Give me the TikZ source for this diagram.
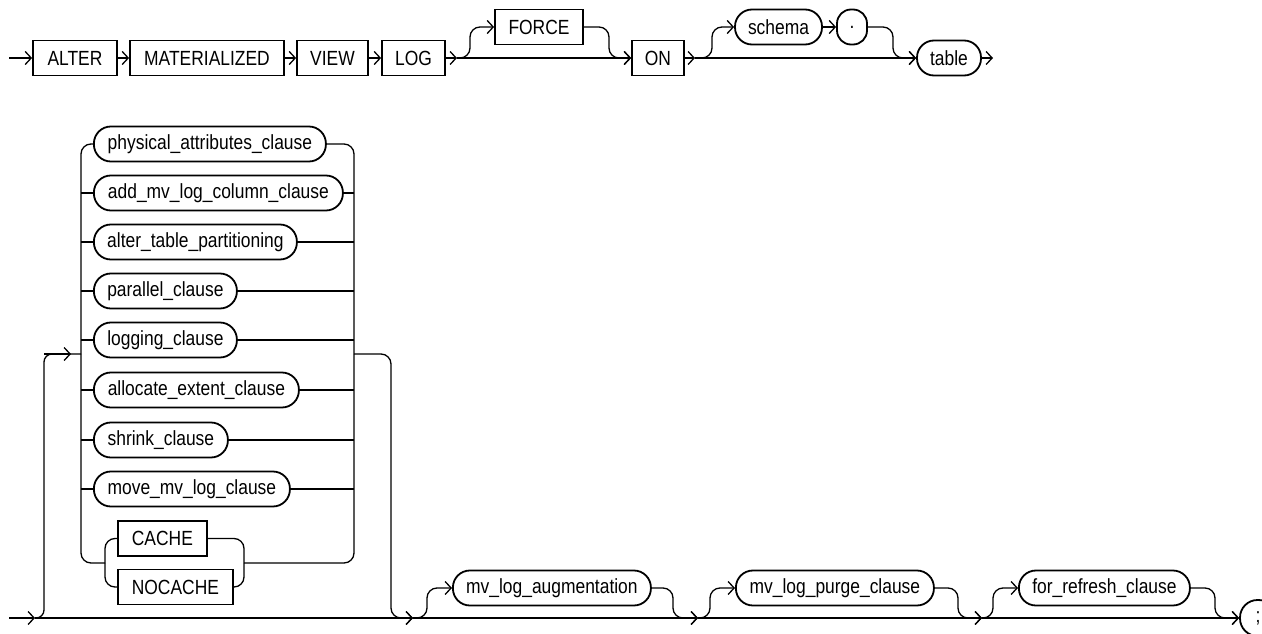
\documentclass[tikz,border=0pt]{standalone}
\usepackage{fontspec}
\setmainfont{Liberation Sans}[FakeStretch=0.85]
\usetikzlibrary{arrows.meta}
\begin{document}
\begin{tikzpicture}[x=1pt,y=-1pt,line width=1.3pt,
  kw/.style={draw,rectangle,line width=1.8pt,minimum height=35pt,inner sep=0pt,font=\fontsize{20.5}{24}\selectfont},
  nt/.style={draw,rectangle,rounded corners=17pt,line width=1.8pt,minimum height=35pt,inner sep=0pt,font=\fontsize{20.5}{24}\selectfont},
  ar/.style={-{Straight Barb[length=6pt,width=13pt]}},
  rc/.style={rounded corners=10pt}]
\useasboundingbox (0,0) rectangle (1262,634);
% ---- top row ----
\node[kw,minimum width=84pt]  (alter) at (75,58) {ALTER};
\node[kw,minimum width=154pt] (mat)   at (207,58) {MATERIALIZED};
\node[kw,minimum width=71pt]  (view)  at (332.5,58) {VIEW};
\node[kw,minimum width=63pt]  (log)   at (413.5,58) {LOG};
\node[kw,minimum width=88pt]  (force) at (539,27) {FORCE};
\node[kw,minimum width=52pt]  (on)    at (658,58) {ON};
\node[nt,minimum width=87pt]  (schema) at (778.5,27) {schema};
\node[nt,minimum width=30pt,rounded corners=14pt] (dot) at (852,27) {.};
\node[nt,minimum width=64pt]  (table) at (949,58) {table};
\coordinate (s0) at (9,58);
\coordinate (j1) at (457,58);
\coordinate (fj) at (609,58);
\coordinate (j2) at (695,58);
\coordinate (dj) at (893,58);
\coordinate (e0) at (993,58);
\draw[ar] (s0) -- (alter);
\draw[ar] (alter) -- (mat);
\draw[ar] (mat) -- (view);
\draw[ar] (view) -- (log);
\draw[ar] (log) -- (j1);
\draw[ar] (j1) -- (on);
\draw[ar,rc] (j1) -- ++(13,0) |- (force.west);
\draw[ar,rc] (force.east) -| (fj) -- (on.west);
\draw[ar] (on) -- (j2);
\draw[ar] (j2) -- (table);
\draw[ar,rc] (j2) -- ++(17,0) |- (schema.west);
\draw[ar] (schema) -- (dot);
\draw[ar,rc] (dot.east) -| (dj) -- (table.west);
\draw[ar] (table) -- (e0);
% ---- choice block ----
\node[nt,anchor=west,minimum width=232pt] (phys)  at (93,144) {physical\_attributes\_clause};
\node[nt,anchor=west,minimum width=249pt] (addc)  at (93,193) {add\_mv\_log\_column\_clause};
\node[nt,anchor=west,minimum width=203pt] (atp)   at (93,242) {alter\_table\_partitioning};
\node[nt,anchor=west,minimum width=143pt] (par)   at (93,291) {parallel\_clause};
\node[nt,anchor=west,minimum width=143pt] (logc)  at (93,340) {logging\_clause};
\node[nt,anchor=west,minimum width=205pt] (alloc) at (93,390) {allocate\_extent\_clause};
\node[nt,anchor=west,minimum width=134pt] (shr)   at (93,440) {shrink\_clause};
\node[nt,anchor=west,minimum width=196pt] (move)  at (93,489) {move\_mv\_log\_clause};
\node[kw,anchor=west,minimum width=89pt]  (cache) at (117,538.5) {CACHE};
\node[kw,anchor=west,minimum width=115pt] (nocache) at (117,587) {NOCACHE};
\coordinate (lin) at (81,354);
\coordinate (rin) at (354,354);
\coordinate (subL) at (105,563);
\coordinate (subR) at (244,563);
\draw[rc] (lin) |- (phys.west);
\foreach \n in {addc,atp,par,logc,alloc,shr,move} {
  \draw (lin |- \n.west) -- (\n.west);
  \draw (\n.east) -- (rin |- \n.east);
}
\draw[rc] (lin) |- (subL);
\draw[rc] (phys.east) -| (rin);
\draw[rc] (subR) -| (rin);
\draw[rc] (subL) |- (cache.west);
\draw[rc] (subL) |- (nocache.west);
\draw[rc] (cache.east) -| (subR);
\draw[rc] (nocache.east) -| (subR);
% ---- bottom row ----
\node[nt,anchor=west,minimum width=198pt] (aug)   at (452,588) {mv\_log\_augmentation};
\node[nt,anchor=west,minimum width=198pt] (purge) at (735,588) {mv\_log\_purge\_clause};
\node[nt,anchor=west,minimum width=171pt] (refr)  at (1018,588) {for\_refresh\_clause};
\node[nt,minimum width=36pt,minimum height=36pt,rounded corners=17.5pt] (semi) at (1258,618) {;};
\coordinate (t0) at (9,618);
\coordinate (b0) at (35,618);
\coordinate (lk) at (44,354);
\coordinate (la) at (71,354);
\coordinate (xc) at (391,618);
\coordinate (b1) at (413,618);
\coordinate (m1) at (673,618);
\coordinate (b2) at (698,618);
\coordinate (m2) at (958,618);
\coordinate (b3) at (982,618);
\coordinate (m3) at (1215,618);
\draw[ar] (t0) -- (b0);
\draw[rounded corners=8pt] (b0) -| (lk) -- (lin);
\draw[ar] (lk) -- (la);
\draw[ar] (b0) -- (b1);
\draw[ar,rc] (rin) -| (xc) -- (b1);
\draw[ar] (b1) -- (b2);
\draw[ar,rc] (b1) -- ++(14,0) |- (aug.west);
\draw[ar,rc] (aug.east) -| (m1) -- (b2);
\draw[ar] (b2) -- (b3);
\draw[ar,rc] (b2) -- ++(12,0) |- (purge.west);
\draw[ar,rc] (purge.east) -| (m2) -- (b3);
\draw[ar] (b3) -- (semi);
\draw[ar,rc] (b3) -- ++(11,0) |- (refr.west);
\draw[ar,rc] (refr.east) -| (m3) -- (semi.west);
\end{tikzpicture}
\end{document}
